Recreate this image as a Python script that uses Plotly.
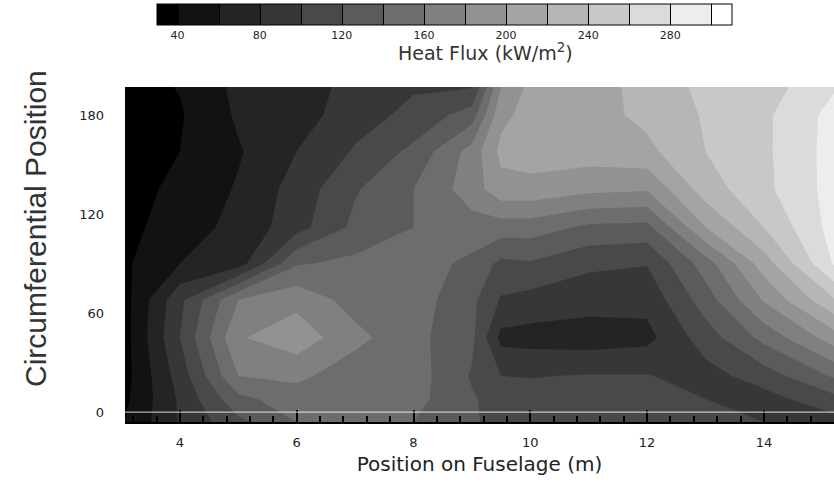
import plotly.graph_objects as go

# Grid positions (m along fuselage, circumferential degrees)
x_pos = [3.06, 4, 5, 6, 7, 8, 9, 9.5, 10, 11, 12, 13, 14, 15.2]
y_pos = [-6, 8, 22, 45, 68, 90, 112, 135, 158, 180, 197]

# Heat flux (kW/m^2), one list per circumferential row (bottom -> top)
row_m6  = [40, 82, 115, 140, 145, 140, 122, 115, 112, 108, 105, 105, 100, 92]
row_8   = [36, 83, 135, 150, 148, 147, 122, 112, 108, 108, 106, 100, 92, 114]
row_22  = [33, 89, 160, 165, 148, 150, 118, 100, 99, 101, 101, 92, 110, 143]
row_45  = [33, 100, 178, 192, 166, 146, 125, 74, 72, 70, 74, 110, 146, 190]
row_68  = [33, 95, 160, 174, 152, 150, 125, 98, 93, 88, 86, 130, 182, 238]
row_90  = [37, 60, 70, 138, 145, 150, 135, 115, 118, 104, 101, 150, 210, 282]
row_112 = [33, 52, 65, 92, 125, 140, 152, 150, 150, 136, 134, 200, 240, 288]
row_135 = [32, 45, 62, 88, 118, 140, 170, 193, 193, 185, 182, 230, 255, 288]
row_158 = [32, 40, 58, 80, 102, 125, 168, 205, 210, 210, 215, 240, 256, 288]
row_180 = [32, 38, 63, 70, 92, 105, 130, 195, 207, 212, 225, 242, 256, 287]
row_197 = [32, 41, 65, 68, 88, 98, 99, 180, 205, 210, 228, 245, 250, 278]

z = [row_m6, row_8, row_22, row_45, row_68, row_90, row_112, row_135, row_158, row_180, row_197]

cb_ticks = [40, 80, 120, 160, 200, 240, 280]
y_ticks = [0, 60, 120, 180]
x_ticks = [4, 6, 8, 10, 12, 14]

gray = [[0, "rgb(0,0,0)"], [1, "rgb(255,255,255)"]]

fig = go.Figure()
fig.add_trace(go.Contour(
    x=x_pos, y=y_pos, z=z, colorscale=gray,
    contours=dict(start=40, end=300, size=20, coloring="fill", showlines=False),
    line=dict(width=0, smoothing=0), showscale=False, hoverinfo="skip"))
# same field again, invisible, only to carry the banded colour bar with separators
fig.add_trace(go.Contour(
    x=x_pos, y=y_pos, z=z, colorscale=gray, opacity=0,
    contours=dict(start=40, end=300, size=20, coloring="fill", showlines=True),
    line=dict(width=1, color="black", smoothing=0), hoverinfo="skip",
    colorbar=dict(
        orientation="h", x=0.4506, xanchor="center", y=1.2478, yanchor="top",
        len=575, lenmode="pixels", thickness=21, xpad=0, ypad=0,
        outlinecolor="black", outlinewidth=1,
        tickvals=cb_ticks, ticks="", tickfont=dict(size=11, color="#222", family="DejaVu Sans"),
    )))

fig.add_annotation(text="Heat Flux (kW/m<sup>2</sup>)", xref="paper", yref="paper",
                   x=0.509, y=1.104, xanchor="center", yanchor="middle", showarrow=False,
                   font=dict(size=19, color="#333", family="DejaVu Sans"))

fig.add_shape(type="line", xref="paper", x0=0, x1=1, yref="y", y0=0, y1=0,
              line=dict(color="rgba(255,255,255,0.85)", width=1), layer="above")

fig.update_xaxes(
    range=[3.06, 15.2], tickvals=x_ticks, ticks="inside", ticklen=12, tickwidth=1.5,
    tickcolor="black", showline=True, linecolor="black", linewidth=2, mirror=False,
    layer="above traces", showgrid=False, zeroline=False,
    minor=dict(ticks="inside", ticklen=6, dtick=0.4, tick0=0, tickcolor="black", tickwidth=1.5),
    tickfont=dict(size=13, color="#222", family="DejaVu Sans"), ticklabelstandoff=7,
    title=dict(text="Position on Fuselage (m)", font=dict(size=20, color="#222", family="DejaVu Sans"),
               standoff=8))
fig.update_yaxes(
    range=[-6, 197], tickvals=y_ticks, ticks="", showgrid=False, zeroline=False,
    showline=False, tickfont=dict(size=13, color="#222", family="DejaVu Sans"),
    ticklabelstandoff=20)

fig.add_annotation(text="Circumferential Position", textangle=-90, xref="paper", yref="paper",
                   x=-0.127, y=0.579, xanchor="center", yanchor="middle", showarrow=False,
                   font=dict(size=30, color="#333", family="Liberation Sans"))

fig.update_layout(
    width=834, height=483, margin=dict(l=125, r=0, t=87, b=61),
    paper_bgcolor="white", plot_bgcolor="white", showlegend=False)

fig.write_html("out.html")
